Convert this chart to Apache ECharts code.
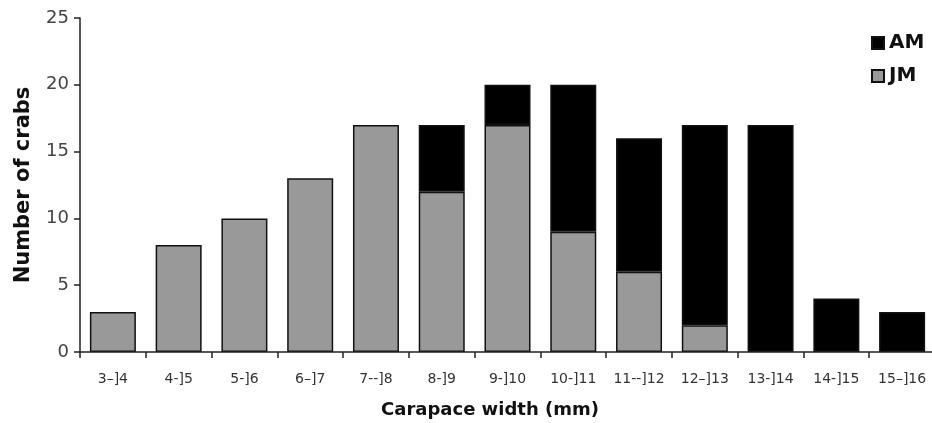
<!DOCTYPE html>
<html><head><meta charset="utf-8">
<script src="https://cdn.jsdelivr.net/npm/echarts@6/dist/echarts.min.js"></script>
<style>html,body{margin:0;padding:0;background:#fff}#c{width:932px;height:423px}</style>
</head><body><div id="c"></div>
<script>
const categories = ['3\u2013]4','4-]5','5-]6','6\u2013]7','7--]8','8-]9','9-]10','10-]11','11--]12','12\u2013]13','13-]14','14-]15','15\u2013]16'];
const jmValues = [3, 8, 10, 13, 17, 12, 17, 9, 6, 2, 0, 0, 0];
const amValues = [0, 0, 0, 0, 0, 5, 3, 11, 10, 15, 17, 4, 3];
const yTicks = [0, 5, 10, 15, 20, 25];

const toData = arr => arr.map(v => v === 0 ? '-' : v);
const FONT = 'DejaVu Sans, Arial, sans-serif';
const chart = echarts.init(document.getElementById('c'), null, {renderer: 'canvas'});
chart.setOption({
  animation: false,
  backgroundColor: '#fff',
  textStyle: {fontFamily: FONT},
  grid: {left: 80, top: 18, bottom: 71, width: 855, containLabel: false, outerBoundsMode: 'none'},
  legend: {
    data: ['AM', 'JM'], orient: 'vertical', left: 871, top: 33, padding: 0,
    itemWidth: 12, itemHeight: 12, itemGap: 13,
    textStyle: {fontSize: 20, fontWeight: 'bold', color: '#111', fontFamily: FONT},
    icon: 'rect'
  },
  xAxis: {
    type: 'category', data: categories,
    name: 'Carapace width (mm)', nameLocation: 'middle', nameGap: 49,
    nameTextStyle: {fontSize: 18, fontWeight: 'bold', color: '#111', padding: [0, 35, 0, 0]},
    axisLine: {show: true, lineStyle: {color: '#222', width: 1.5}},
    axisTick: {show: true, alignWithLabel: false, length: 6, interval: 0, lineStyle: {color: '#222', width: 1.5}},
    axisLabel: {fontSize: 14, color: '#333', margin: 20, interval: 0},
    z: 5
  },
  yAxis: {
    type: 'value', min: yTicks[0], max: yTicks[yTicks.length - 1], interval: 5,
    name: 'Number of crabs', nameLocation: 'middle', nameGap: 46,
    nameTextStyle: {fontSize: 21, fontWeight: 'bold', color: '#111'},
    axisLine: {show: true, lineStyle: {color: '#222', width: 1.5}},
    axisTick: {show: true, length: 6, lineStyle: {color: '#222', width: 1.5}},
    axisLabel: {fontSize: 18, color: '#444', margin: 11},
    splitLine: {show: false}
  },
  series: [
    {name: 'JM', type: 'bar', stack: 's', data: toData(jmValues), barWidth: 46,
     itemStyle: {color: '#999999', borderColor: '#111', borderWidth: 1.5}},
    {name: 'AM', type: 'bar', stack: 's', data: toData(amValues), barWidth: 46,
     itemStyle: {color: '#000000', borderColor: '#111', borderWidth: 1.5}}
  ]
});
</script></body></html>
